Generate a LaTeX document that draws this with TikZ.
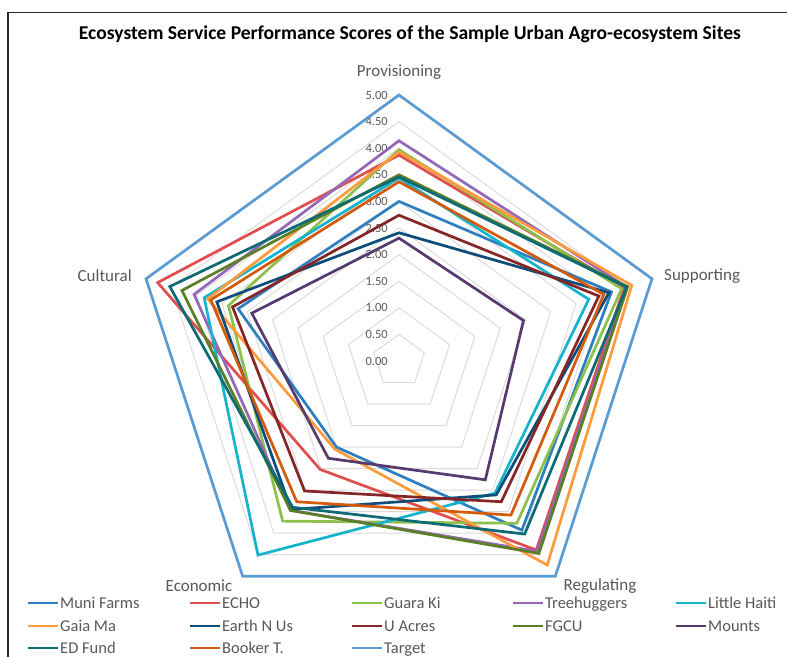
\documentclass[tikz,border=0pt]{standalone}
\usepackage{fontspec}
\setmainfont{Carlito}
\definecolor{gridgray}{HTML}{D9D9D9}
\definecolor{labgray}{HTML}{595959}
\definecolor{cMuni}{HTML}{2E7EC0}
\definecolor{cEcho}{HTML}{E04F4D}
\definecolor{cGuara}{HTML}{8CC04B}
\definecolor{cTree}{HTML}{9468B8}
\definecolor{cHaiti}{HTML}{15B4CC}
\definecolor{cGaia}{HTML}{FF9B3D}
\definecolor{cEarth}{HTML}{0E4C7A}
\definecolor{cUacres}{HTML}{862525}
\definecolor{cFgcu}{HTML}{5B7F24}
\definecolor{cMounts}{HTML}{573A70}
\definecolor{cEdfund}{HTML}{0C6B74}
\definecolor{cBooker}{HTML}{D35A0B}
\definecolor{cTarget}{HTML}{5B9BD3}
\tikzset{
  gridring/.style={draw=gridgray, line width=0.9pt},
  serie/.style={line width=2.7pt, line join=miter},
  axlabel/.style={text=labgray, inner sep=0pt, font=\fontsize{17}{20}\selectfont},
  ticklabel/.style={text=labgray, inner sep=0pt, anchor=east, font=\fontsize{12.5}{15}\selectfont},
  legtext/.style={text=labgray, inner sep=0pt, anchor=base west, font=\fontsize{16.5}{19}\selectfont},
  legline/.style={line width=2.7pt},
}
% one unit of score in pt
\def\unitr{53.2}
% score polygon: colour, Provisioning, Supporting, Regulating, Economic, Cultural
\newcommand\radarline[6]{%
  \draw[serie,#1] (-90:{#2*\unitr}) -- (-18:{#3*\unitr}) -- (54:{#4*\unitr})
    -- (126:{#5*\unitr}) -- (198:{#6*\unitr}) -- cycle;}
% legend entry: colour, x, y, text, name
\newcommand\legentry[5]{%
  \coordinate (#5a) at (#2,#3);
  \coordinate (#5b) at (#2+30,#3);
  \draw[legline,#1] (#5a) -- (#5b);
  \node[legtext] (#5) at ([xshift=2pt,yshift=-5.5pt]#5b) {#4};}
\begin{document}
\begin{tikzpicture}[x=1pt,y=-1pt]
\useasboundingbox (0,0) rectangle (787,657);
\fill[white] (0,0) rectangle (787,657);
% chart frame
\draw[line width=1.6pt, black!85] (8,657) -- (8,12.5) -- (787,12.5);
% title
\node[font=\bfseries\fontsize{19.6}{23}\selectfont, inner sep=0pt] (title) at (410,34)
  {Ecosystem Service Performance Scores of the Sample Urban Agro-ecosystem Sites};
\begin{scope}[shift={(399,361)}]
  % grid rings
  \foreach \k in {1,...,10}{
    \draw[gridring] (-90:{\k*\unitr/2}) -- (-18:{\k*\unitr/2}) -- (54:{\k*\unitr/2})
      -- (126:{\k*\unitr/2}) -- (198:{\k*\unitr/2}) -- cycle;}
  % scale labels
  \foreach \k/\t in {0/0.00,1/0.50,2/1.00,3/1.50,4/2.00,5/2.50,6/3.00,7/3.50,8/4.00,9/4.50,10/5.00}{
    \node[ticklabel] (tick\k) at (-11,{-\k*\unitr/2}) {\t};}
  % series
  \radarline{cMuni}{3.00}{4.20}{3.93}{2.00}{3.18}
  \radarline{cEcho}{3.87}{4.45}{4.39}{2.52}{4.77}
  \radarline{cGuara}{3.97}{4.40}{3.77}{3.72}{3.37}
  \radarline{cTree}{4.14}{4.50}{4.42}{3.47}{4.05}
  \radarline{cHaiti}{3.44}{3.75}{3.07}{4.51}{3.85}
  \radarline{cGaia}{3.93}{4.60}{4.74}{2.05}{3.78}
  \radarline{cEarth}{2.41}{4.15}{3.11}{3.45}{3.60}
  \radarline{cUacres}{2.74}{3.95}{3.27}{3.02}{3.29}
  \radarline{cFgcu}{3.50}{4.52}{4.47}{3.47}{4.29}
  \radarline{cMounts}{2.31}{2.46}{2.76}{2.26}{2.91}
  \radarline{cEdfund}{3.46}{4.50}{4.02}{3.40}{4.53}
  \radarline{cBooker}{3.37}{4.05}{3.58}{3.27}{3.72}
  \radarline{cTarget}{5}{5}{5}{5}{5}
\end{scope}
% category labels
\node[axlabel] (prov) at (399,72) {Provisioning};
\node[axlabel, anchor=west] (supp) at (664,276) {Supporting};
\node[axlabel] (regu) at (600,586) {Regulating};
\node[axlabel] (econ) at (199,586) {Economic};
\node[axlabel, anchor=east] (cult) at (132,276) {Cultural};
% legend
\legentry{cMuni}{28}{603}{Muni Farms}{lg1}
\legentry{cEcho}{190}{603}{ECHO}{lg2}
\legentry{cGuara}{352}{603}{Guara Ki}{lg3}
\legentry{cTree}{513}{603}{Treehuggers}{lg4}
\legentry{cHaiti}{676}{603}{Little Haiti}{lg5}
\legentry{cGaia}{28}{626}{Gaia Ma}{lg6}
\legentry{cEarth}{190}{626}{Earth N Us}{lg7}
\legentry{cUacres}{352}{626}{U Acres}{lg8}
\legentry{cFgcu}{513}{626}{FGCU}{lg9}
\legentry{cMounts}{676}{626}{Mounts}{lg10}
\legentry{cEdfund}{28}{648}{ED Fund}{lg11}
\legentry{cBooker}{190}{648}{Booker T.}{lg12}
\legentry{cTarget}{352}{648}{Target}{lg13}
\end{tikzpicture}
\end{document}
